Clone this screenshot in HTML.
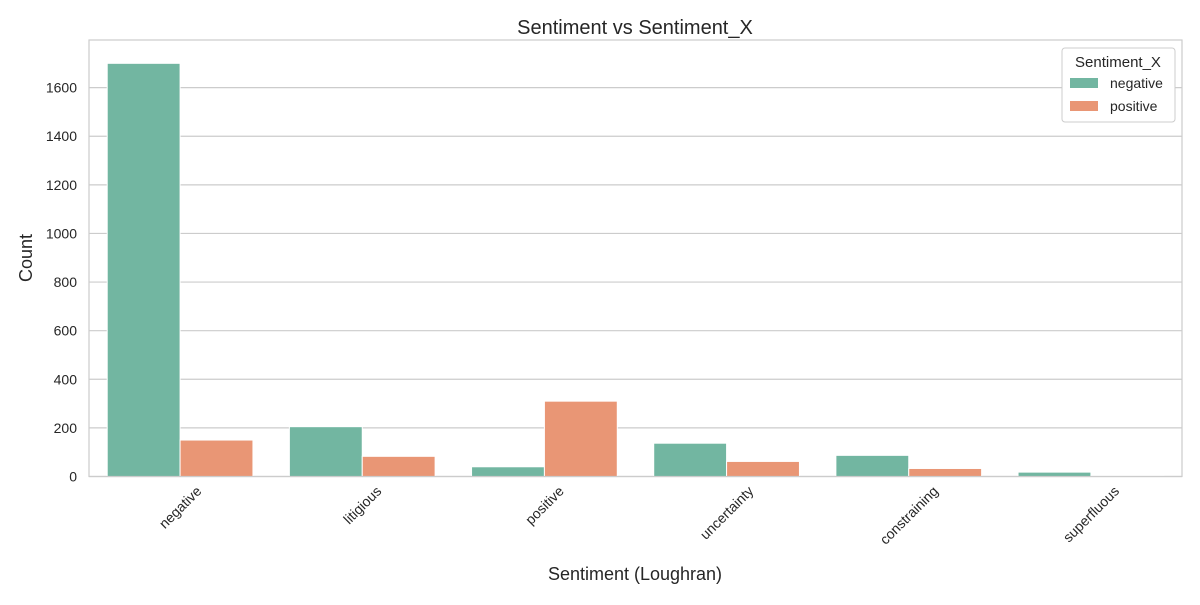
<!DOCTYPE html>
<html><head><meta charset="utf-8"><style>
body{margin:0;background:#fff;font-family:"Liberation Sans","DejaVu Sans",sans-serif}
svg text{font-family:"Liberation Sans","DejaVu Sans",sans-serif;fill:#262626}
</style></head><body>
<svg id="chart" width="1200" height="600" xmlns="http://www.w3.org/2000/svg">
<g id="grid"></g>
<g id="bars"></g>
<rect x="89" y="40" width="1093" height="436.5" fill="none" stroke="#cccccc" stroke-width="1.2"/>
<g id="ticks"></g>
<text x="635" y="34" font-size="20" text-anchor="middle">Sentiment vs Sentiment_X</text>
<text x="635" y="580" font-size="18" text-anchor="middle">Sentiment (Loughran)</text>
<text transform="translate(32,258) rotate(-90)" font-size="18" text-anchor="middle">Count</text>
<g>
<rect x="1062" y="48" width="113" height="74" rx="3" fill="#fff" stroke="#cccccc"/>
<text x="1118" y="67" font-size="15" text-anchor="middle">Sentiment_X</text>
<rect x="1070" y="78" width="28" height="10" fill="#72b6a1"/>
<text x="1110" y="88" font-size="14">negative</text>
<rect x="1070" y="101" width="28" height="10" fill="#e99675"/>
<text x="1110" y="111" font-size="14">positive</text>
</g>
</svg>
<script>
const categories=["negative","litigious","positive","uncertainty","constraining","superfluous"];
const negValues=[1700,205,40,137,87,18];
const posValues=[150,83,310,62,33,1];
const yTicks=[0,200,400,600,800,1000,1200,1400,1600];
const L=89,R=1182,B=476.5,T=40;
const yMax=1796;
function y(v){return B-v/yMax*(B-T);}
const gw=(R-L)/categories.length;
function xc(i){return L+gw*(i+0.5);}
const NS="http://www.w3.org/2000/svg";
function mk(t,a,p){const e=document.createElementNS(NS,t);for(const k in a)e.setAttribute(k,a[k]);p.appendChild(e);return e;}
const grid=document.getElementById('grid'),bars=document.getElementById('bars'),ticks=document.getElementById('ticks');
yTicks.forEach(v=>{
 const l=mk('line',{x1:L,x2:R,y1:y(v),y2:y(v),stroke:'#cccccc','stroke-width':1.2},grid);
 
 
 const t=mk('text',{x:L-12,y:y(v)+5,'font-size':14,'text-anchor':'end'},ticks);
 t.textContent=v;
 
 
});
const bw=gw*0.4;
categories.forEach((c,i)=>{
 const cx=xc(i);
 const b1=mk('rect',{x:cx-bw,y:y(negValues[i]),width:bw,height:B-y(negValues[i]),fill:'#72b6a1',stroke:'#fff','stroke-width':1},bars);
 
 
 const b2=mk('rect',{x:cx,y:y(posValues[i]),width:bw,height:B-y(posValues[i]),fill:'#e99675',stroke:'#fff','stroke-width':1},bars);
 
 
 const t=mk('text',{x:0,y:0,'font-size':14,'text-anchor':'middle'},ticks);
 t.textContent=c;
 
 
 const w=t.getComputedTextLength();
 const h=(w+14)*0.7071;
 const cy=B+7+h/2;
 t.setAttribute('transform',`translate(${cx},${cy}) rotate(-45)`);
 t.setAttribute('y',5);
});
</script>
</body></html>
